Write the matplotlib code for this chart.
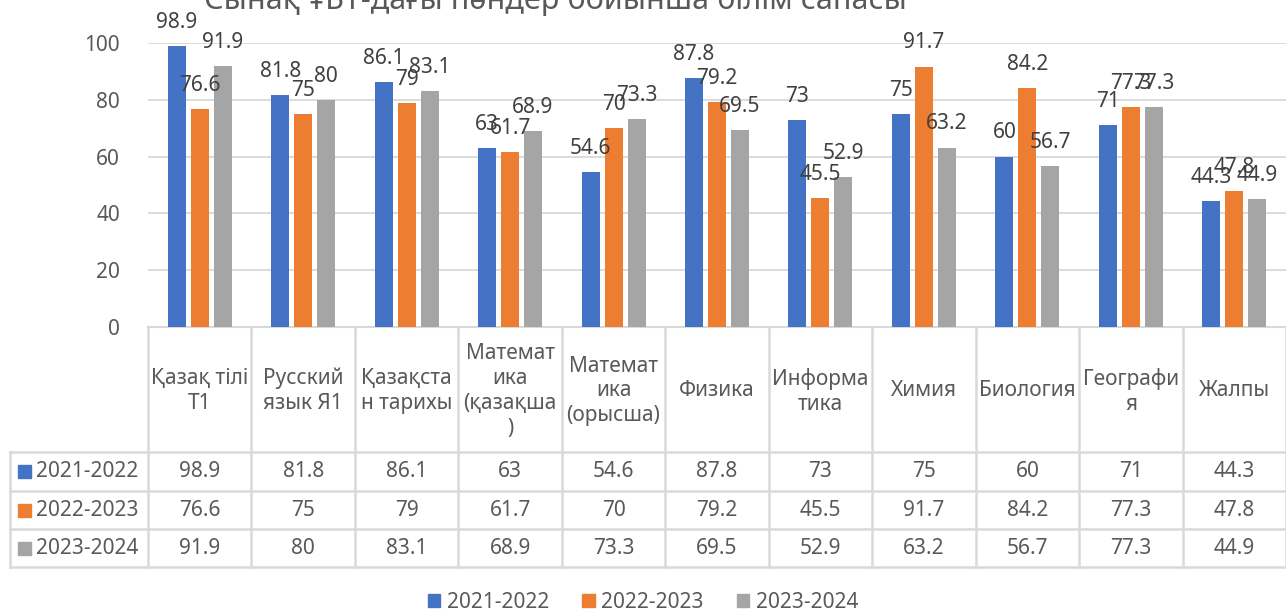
import matplotlib
matplotlib.use("Agg")
import matplotlib.pyplot as plt
from matplotlib.lines import Line2D
from matplotlib.patches import Patch, Rectangle
from matplotlib.transforms import blended_transform_factory
import numpy as np

plt.rcParams['font.family'] = ['Noto Sans', 'DejaVu Sans']

categories = ["Қазақ тілі\nТ1", "Русский\nязык Я1", "Қазақста\nн тарихы",
              "Математ\nика\n(қазақша\n)", "Математ\nика\n(орысша)", "Физика",
              "Информа\nтика", "Химия", "Биология", "Географи\nя", "Жалпы"]
series_names = ["2021-2022", "2022-2023", "2023-2024"]
v2021 = [98.9, 81.8, 86.1, 63, 54.6, 87.8, 73, 75, 60, 71, 44.3]
v2022 = [76.6, 75, 79, 61.7, 70, 79.2, 45.5, 91.7, 84.2, 77.3, 47.8]
v2023 = [91.9, 80, 83.1, 68.9, 73.3, 69.5, 52.9, 63.2, 56.7, 77.3, 44.9]
yticks = [0, 20, 40, 60, 80, 100]
title = "Сынақ ҰБТ-дағы пәндер бойынша білім сапасы"

colors = ["#4472C4", "#ED7D31", "#A5A5A5"]
series = [v2021, v2022, v2023]
txt = "#595959"
grid_c = "#D9D9D9"
FS = 15

W, H = 1286, 613
fig = plt.figure(figsize=(W / 100, H / 100), dpi=100)

def fy(ypx):
    return 1 - ypx / H

def fx(xpx):
    return xpx / W

ax = fig.add_axes([fx(148), fy(327), fx(1286) - fx(148), fy(43) - fy(327)])
n = len(categories)
x = np.arange(n)
bw = 0.174
step = 0.222
for i, (vals, c) in enumerate(zip(series, colors)):
    xs = x + (i - 1) * step
    ax.bar(xs, vals, width=bw, color=c, zorder=3)
    for xi, v in zip(xs, vals):
        ax.annotate(f"{v:g}", (xi, v), xytext=(0, 17), textcoords="offset points",
                    ha="center", va="center", fontsize=FS, color="#404040",
                    annotation_clip=False, zorder=4)

ax.set_xlim(-0.5, n - 0.5)
ax.set_ylim(0, 100)
ax.set_yticks(yticks)
ax.set_yticklabels([str(t) for t in yticks], fontsize=FS, color=txt)
ax.tick_params(axis="y", length=0, pad=20)
ax.set_xticks([])
ax.grid(axis="y", color=grid_c, linewidth=1.3, zorder=0)
for s in ["left", "right", "top"]:
    ax.spines[s].set_visible(False)
ax.spines["bottom"].set_color(grid_c)
ax.spines["bottom"].set_linewidth(1.5)

# Data table
trans = blended_transform_factory(ax.transData, fig.transFigure)
row_edges = [452, 491, 529, 567]
lc = "#D9D9D9"
lw = 1.8
for b in np.arange(n + 1) - 0.5:
    fig.add_artist(Line2D([b, b], [fy(327), fy(567)], transform=trans,
                          color=lc, linewidth=lw, clip_on=False))
fig.add_artist(Line2D([fx(10), fx(10)], [fy(452), fy(567)], transform=fig.transFigure,
                      color=lc, linewidth=lw))
for r in row_edges:
    fig.add_artist(Line2D([fx(10), fx(1286)], [fy(r), fy(r)], transform=fig.transFigure,
                          color=lc, linewidth=lw))

for i, cat in enumerate(categories):
    fig.text(i, fy(391), cat, transform=trans, ha="center", va="center",
             fontsize=FS, color=txt, linespacing=1.25, multialignment="center")

for r, (name, vals, c) in enumerate(zip(series_names, series, colors)):
    yc = (row_edges[r] + row_edges[r + 1]) / 2
    fig.add_artist(Rectangle((fx(18), fy(yc + 6.5)), fx(13), 13 / H,
                             transform=fig.transFigure, color=c))
    fig.text(fx(36), fy(yc), name, ha="left", va="center", fontsize=FS, color=txt)
    for i, v in enumerate(vals):
        fig.text(i, fy(yc), f"{v:g}", transform=trans, ha="center", va="center",
                 fontsize=FS, color=txt)

handles = [Patch(color=c, label=nm) for c, nm in zip(colors, series_names)]
fig.legend(handles=handles, loc="center", bbox_to_anchor=(fx(643), fy(602)), ncol=3,
           frameon=False, fontsize=FS, handlelength=0.6, handleheight=0.6,
           handletextpad=0.3, columnspacing=1.6, labelcolor=txt, borderaxespad=0)

# title (cut off at top in reference)
fig.text(fx(555), fy(9), title, ha="center", va="baseline", fontsize=22, color=txt)

fig.savefig("out.png", dpi=100)
